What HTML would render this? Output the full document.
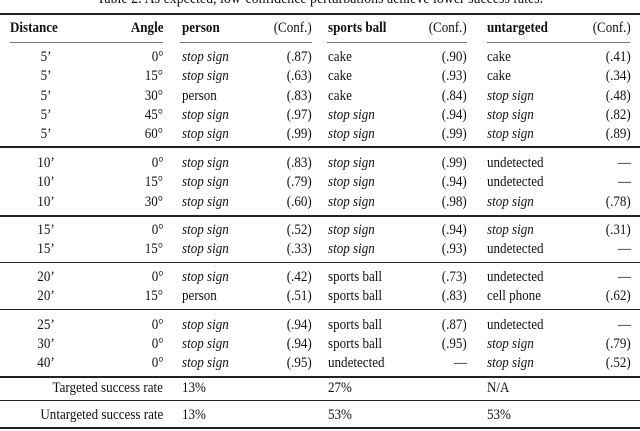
<!DOCTYPE html>
<html><head><meta charset="utf-8"><style>
body{margin:0;width:640px;height:431px;overflow:hidden;background:#fff;font-family:"Liberation Serif",serif;font-size:15px;color:#111;position:relative}
.t{position:absolute;white-space:nowrap;line-height:18px}
.r{position:absolute;background:#222}
</style></head><body>
<div class="t" style="left:0;width:640px;text-align:center;top:-10px;font-size:16px;transform:scaleX(0.87)">Table 2: As expected, low-confidence perturbations achieve lower success rates.</div>
<div class="r" style="left:0;width:640px;top:13px;height:2px"></div>
<div class="r" style="left:10px;width:153px;top:42px;height:1px;background:#777"></div>
<div class="r" style="left:180px;width:132px;top:42px;height:1px;background:#777"></div>
<div class="r" style="left:327px;width:140px;top:42px;height:1px;background:#777"></div>
<div class="r" style="left:487px;width:143px;top:42px;height:1px;background:#777"></div>
<div id="rows"></div>
<script>
const rows=[
 [57,"5’","0°","stop sign",1,"(.87)","cake",0,"(.90)","cake",0,"(.41)"],
 [76,"5’","15°","stop sign",1,"(.63)","cake",0,"(.93)","cake",0,"(.34)"],
 [96,"5’","30°","person",0,"(.83)","cake",0,"(.84)","stop sign",1,"(.48)"],
 [115,"5’","45°","stop sign",1,"(.97)","stop sign",1,"(.94)","stop sign",1,"(.82)"],
 [134,"5’","60°","stop sign",1,"(.99)","stop sign",1,"(.99)","stop sign",1,"(.89)"],
 [163,"10’","0°","stop sign",1,"(.83)","stop sign",1,"(.99)","undetected",0,"—"],
 [182,"10’","15°","stop sign",1,"(.79)","stop sign",1,"(.94)","undetected",0,"—"],
 [202,"10’","30°","stop sign",1,"(.60)","stop sign",1,"(.98)","stop sign",1,"(.78)"],
 [230,"15’","0°","stop sign",1,"(.52)","stop sign",1,"(.94)","stop sign",1,"(.31)"],
 [249,"15’","15°","stop sign",1,"(.33)","stop sign",1,"(.93)","undetected",0,"—"],
 [277,"20’","0°","stop sign",1,"(.42)","sports ball",0,"(.73)","undetected",0,"—"],
 [296,"20’","15°","person",0,"(.51)","sports ball",0,"(.83)","cell phone",0,"(.62)"],
 [325,"25’","0°","stop sign",1,"(.94)","sports ball",0,"(.87)","undetected",0,"—"],
 [344,"30’","0°","stop sign",1,"(.94)","sports ball",0,"(.95)","stop sign",1,"(.79)"],
 [363,"40’","0°","stop sign",1,"(.95)","undetected",0,"—","stop sign",1,"(.52)"]
];
const rules=[[146,2],[215,2],[262,1],[309,1],[376,2],[400,1],[427,2]];
const R=document.getElementById('rows');
function add(txt,x,y,align,cls,name){
 const d=document.createElement('div');d.className='t';
 
 
 if(align==='r'){d.style.right=(640-x)+'px';d.style.textAlign='right';d.style.transformOrigin='right center';}
 else if(align==='c'){d.style.left=(x-30)+'px';d.style.width='60px';d.style.textAlign='center';d.style.transformOrigin='center center';}
 else {d.style.left=x+'px';d.style.transformOrigin='left center';}
 d.style.transform='scaleX(0.87)';
 d.style.top=(y-9)+'px';
 if(cls==='i')d.style.fontStyle='italic';
 if(cls==='b')d.style.fontWeight='bold';
 d.textContent=txt;R.appendChild(d);
}
add("Distance",10,28,'l','b','header-distance');
add("Angle",163,28,'r','b','header-angle');
add("person",182,28,'l','b','header-person');
add("(Conf.)",312,28,'r','','header-conf-person');
add("sports ball",328,28,'l','b','header-sports-ball');
add("(Conf.)",467,28,'r','','header-conf-sports-ball');
add("untargeted",487,28,'l','b','header-untargeted');
add("(Conf.)",631,28,'r','','header-conf-untargeted');
rows.forEach(r=>{
 const y=r[0];
 add(r[1],46,y,'c','','distance-cell');
 add(r[2],163,y,'r','','angle-cell');
 add(r[3],182,y,'l',r[4]?'i':'','person-label');
 add(r[5],312,y,'r','','person-conf');
 add(r[6],328,y,'l',r[7]?'i':'','sports-ball-label');
 add(r[8],467,y,'r','','sports-ball-conf');
 add(r[9],487,y,'l',r[10]?'i':'','untargeted-label');
 add(r[11],631,y,'r','','untargeted-conf');
});
add("Targeted success rate",163,388,'r','','targeted-label');
add("13%",182,388,'l','','targeted-person');
add("27%",328,388,'l','','targeted-sports-ball');
add("N/A",487,388,'l','','targeted-untargeted');
add("Untargeted success rate",163,415,'r','','untargeted-rate-label');
add("13%",182,415,'l','','untargeted-rate-person');
add("53%",328,415,'l','','untargeted-rate-sports-ball');
add("53%",487,415,'l','','untargeted-rate-untargeted');
rules.forEach(([y,h])=>{
 const d=document.createElement('div');d.className='r';
 
 
 d.style.left='0';d.style.width='640px';d.style.top=y+'px';d.style.height=h+'px';
 R.appendChild(d);
});
</script>
</body></html>
